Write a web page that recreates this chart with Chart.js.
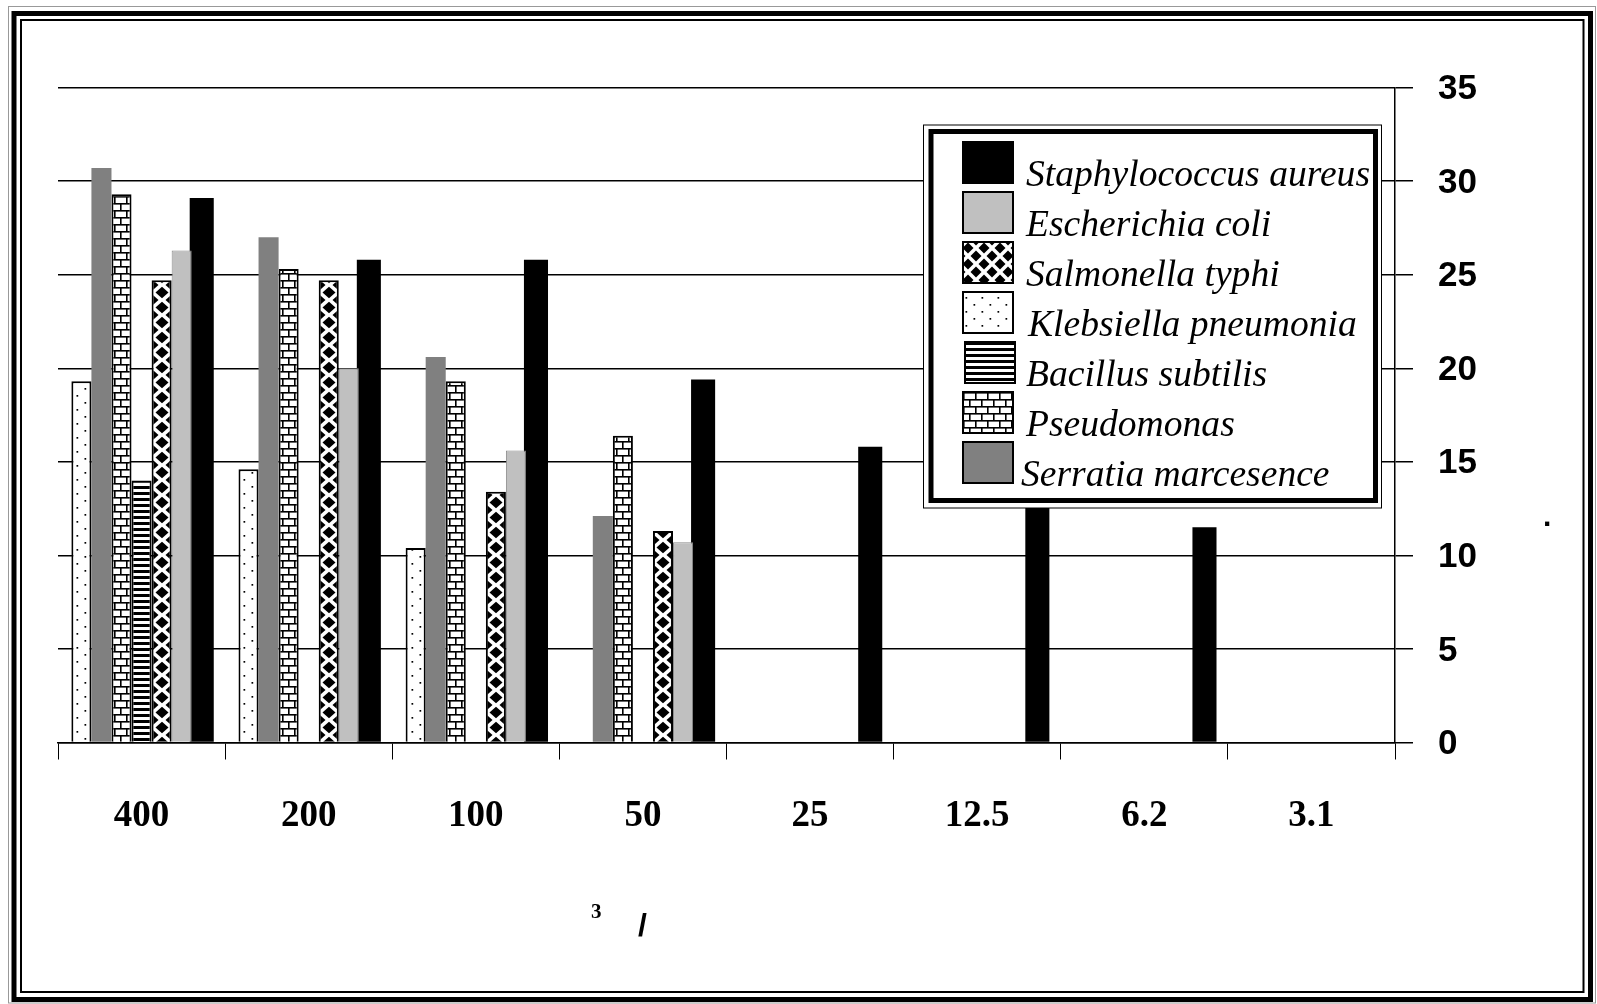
<!DOCTYPE html>
<html><head><meta charset="utf-8">
<script src="https://cdn.jsdelivr.net/npm/chart.js@4"></script>
<style>html,body{margin:0;padding:0;background:#fff;} canvas{display:block;}</style>
</head><body>
<canvas id="c" width="1597" height="1004"></canvas>
<script>
// ---- data ----
const categories = ['400', '200', '100', '50', '25', '12.5', '6.2', '3.1'];
const yTicks = [0, 5, 10, 15, 20, 25, 30, 35];
const klebsiella  = [19.3, 14.6, 10.4, null, null, null, null, null];
const serratia    = [30.7, 27.0, 20.6, 12.1, null, null, null, null];
const pseudomonas = [29.3, 25.3, 19.3, 16.4, null, null, null, null];
const bacillus    = [14.0, null, null, null, null, null, null, null];
const salmonella  = [24.7, 24.7, 13.4, 11.3, null, null, null, null];
const ecoli       = [26.3, 20.0, 15.6, 10.7, null, null, null, null];
const staph       = [29.1, 25.8, 25.8, 19.4, 15.8, 13.8, 11.5, null];
const legendOrder = ['Staphylococcus aureus', 'Escherichia coli', 'Salmonella typhi',
  'Klebsiella pneumonia', 'Bacillus subtilis', 'Pseudomonas', 'Serratia marcesence'];

const CAT_PCT = 0.84;
const NUM_SERIES = 7;

// ---- patterns ----
const mainCtx = document.getElementById('c').getContext('2d');
function makeTile(w, h, draw) {
  const c = document.createElement('canvas');
  c.width = w; c.height = h;
  const g = c.getContext('2d');
  g.fillStyle = '#fff'; g.fillRect(0, 0, w, h);
  g.fillStyle = '#000';
  draw(g);
  return c;
}
const diamond = (g, cx, cy, rx, ry) => { g.beginPath(); g.moveTo(cx, cy - ry); g.lineTo(cx + rx, cy); g.lineTo(cx, cy + ry); g.lineTo(cx - rx, cy); g.closePath(); g.fill(); };
const tiles = {
  dots: makeTile(16, 14, g => { g.fillRect(5.5, 3, 1.7, 1.7); g.fillRect(13.5, 10, 1.7, 1.7); }),
  bricks: makeTile(12, 14, g => {
    g.fillRect(0, 0, 12, 1.6); g.fillRect(0, 7, 12, 1.6);
    g.fillRect(3, 0, 1.6, 7); g.fillRect(9, 7, 1.6, 7);
  }),
  lines: makeTile(6, 6, g => { g.fillRect(0, 0, 6, 3); }),
  diamonds: makeTile(20, 15, g => {
    diamond(g, 10, 7.5, 6.5, 5.75);
    diamond(g, 0, 0, 6.5, 5.75); diamond(g, 20, 0, 6.5, 5.75);
    diamond(g, 0, 15, 6.5, 5.75); diamond(g, 20, 15, 6.5, 5.75);
  }),
  legendDiamonds: makeTile(16, 16, g => {
    diamond(g, 8, 8, 5.5, 5.5);
    diamond(g, 0, 0, 5.5, 5.5); diamond(g, 16, 0, 5.5, 5.5);
    diamond(g, 0, 16, 5.5, 5.5); diamond(g, 16, 16, 5.5, 5.5);
  })
};
function basePattern(name) { return mainCtx.createPattern(tiles[name], 'repeat'); }
// pattern aligned to the left edge of each bar
function barPattern(name) {
  return function (ctx) {
    const xs = ctx.chart.scales.x;
    if (!xs || ctx.dataIndex === undefined) return basePattern(name);
    const slot = xs.width / categories.length * CAT_PCT / NUM_SERIES;
    const centre = xs.getPixelForValue(ctx.dataIndex) + (ctx.datasetIndex - (NUM_SERIES - 1) / 2) * slot;
    const p = basePattern(name);
    p.setTransform(new DOMMatrix().translate(Math.round(centre - slot / 2), 0));
    return p;
  };
}

const common = { categoryPercentage: CAT_PCT, barPercentage: 1.0 };
const datasets = [
  { label: 'Klebsiella pneumonia', data: klebsiella, backgroundColor: barPattern('dots'), borderColor: '#000', borderWidth: 2, ...common },
  { label: 'Serratia marcesence', data: serratia, backgroundColor: '#808080', borderColor: '#808080', borderWidth: 0, ...common },
  { label: 'Pseudomonas', data: pseudomonas, backgroundColor: barPattern('bricks'), borderColor: '#000', borderWidth: 2, ...common },
  { label: 'Bacillus subtilis', data: bacillus, backgroundColor: barPattern('lines'), borderColor: '#000', borderWidth: 2, ...common },
  { label: 'Salmonella typhi', data: salmonella, backgroundColor: barPattern('diamonds'), borderColor: '#000', borderWidth: 2, ...common },
  { label: 'Escherichia coli', data: ecoli, backgroundColor: '#c0c0c0', borderColor: '#8a8a8a', borderWidth: 1, ...common },
  { label: 'Staphylococcus aureus', data: staph, backgroundColor: '#000', borderColor: '#000', borderWidth: 0, categoryPercentage: CAT_PCT, barPercentage: 1.2 }
];
const legendFill = {
  'Staphylococcus aureus': '#000',
  'Escherichia coli': '#c0c0c0',
  'Salmonella typhi': basePattern('legendDiamonds'),
  'Klebsiella pneumonia': basePattern('dots'),
  'Bacillus subtilis': basePattern('lines'),
  'Pseudomonas': basePattern('bricks'),
  'Serratia marcesence': '#808080'
};

// ---- plugins ----
const framePlugin = {
  id: 'frame',
  beforeDraw(chart) {
    const ctx = chart.ctx; ctx.save();
    ctx.fillStyle = '#fff'; ctx.fillRect(0, 0, chart.width, chart.height);
    ctx.restore();
  },
  afterDraw(chart) {
    const ctx = chart.ctx; ctx.save();
    // legend box
    ctx.fillStyle = '#fff';
    ctx.fillRect(923.5, 125, 458, 383);
    ctx.strokeStyle = '#000';
    ctx.lineWidth = 1; ctx.strokeRect(923.5, 125, 458, 383);
    ctx.lineWidth = 5; ctx.strokeRect(931, 131.5, 444.5, 369);
    ctx.font = 'italic 37.6px "Liberation Serif"';
    ctx.textBaseline = 'alphabetic'; ctx.textAlign = 'left';
    legendOrder.forEach((name, i) => {
      const top = 142 + i * 50;
      const sx = name === 'Bacillus subtilis' ? 965 : 963;
      ctx.fillStyle = legendFill[name];
      ctx.fillRect(sx, top, 50, 41);
      ctx.lineWidth = 2; ctx.strokeStyle = '#000';
      ctx.strokeRect(sx, top, 50, 41);
      ctx.fillStyle = '#000';
      const tx = name === 'Serratia marcesence' ? 1021 : (name === 'Klebsiella pneumonia' ? 1028 : 1026);
      ctx.fillText(name, tx, top + 44);
    });
    // axis title fragments
    ctx.fillStyle = '#000';
    ctx.font = 'bold 21px "Liberation Serif"';
    ctx.fillText('3', 591, 918);
    ctx.font = 'bold 32px "Liberation Sans"';
    ctx.fillText('/', 638, 936);
    ctx.font = 'bold 30px "Liberation Sans"';
    ctx.fillText('.', 1543, 526);
    // outer frame
    ctx.strokeStyle = '#999'; ctx.lineWidth = 1; ctx.strokeRect(8.5, 6.5, 1587, 996.5);
    ctx.strokeStyle = '#000'; ctx.lineWidth = 5; ctx.strokeRect(14, 13.5, 1576.5, 986);
    ctx.lineWidth = 2; ctx.strokeRect(21, 20, 1562.5, 972);
    ctx.restore();
  }
};

new Chart(document.getElementById('c'), {
  type: 'bar',
  data: { labels: categories, datasets },
  plugins: [framePlugin],
  options: {
    responsive: false,
    animation: false,
    devicePixelRatio: 1,
    layout: { padding: { left: 58, top: 87.6, right: 0, bottom: 0 } },
    plugins: { legend: { display: false }, tooltip: { enabled: false } },
    scales: {
      x: {
        grid: { drawOnChartArea: false, drawTicks: true, tickLength: 17, color: '#000', lineWidth: 1, offset: true },
        border: { display: true, color: '#000', width: 1.5 },
        ticks: { color: '#000', padding: 35, maxRotation: 0, font: { family: 'Liberation Serif', size: 37, weight: 'bold' } },
        afterFit(s) { s.height = 1004 - 742.5; }
      },
      y: {
        position: 'right',
        min: 0, max: 35,
        afterBuildTicks(s) { s.ticks = yTicks.map(v => ({ value: v })); },
        grid: { color: '#000', lineWidth: 1.5, tickLength: 18 },
        border: { display: true, color: '#000', width: 1.5 },
        ticks: { color: '#000', padding: 25, labelOffset: 2, font: { family: 'Liberation Sans', size: 35, weight: 'bold' } },
        afterFit(s) { s.width = 1597 - 1395; }
      }
    }
  }
});
</script>
</body></html>
